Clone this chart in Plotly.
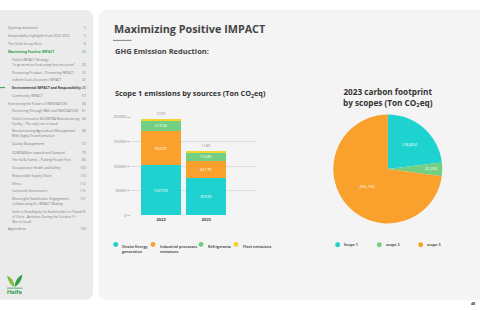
import plotly.graph_objects as go

W, H = 480, 310
FONT = "Open Sans"

# ---------------- data ----------------
years = ["2022", "2023"]
sources = ["Onsite Energy<br>generation", "Industrial processes<br>emissions", "Refrigerants", "Fleet emissions"]
onsite = [102730, 76330]
industrial = [69220, 34170]
refrigerants = [21318, 17240]
fleet = [1090, 1180]
bar_colors = ["#1ED2CF", "#F9A12C", "#72CF82", "#F2D430"]

scopes = ["Scope 1", "scope 2", "scope 3"]
scope_values = [128854, 22262, 405752]
scope_colors = ["#1ED2CF", "#72CF82", "#F9A12C"]

y_ticks = [0, 50000, 100000, 150000, 200000]

toc = [
    # (lines, page, indent, style)
    (["Opening statement"], "5", 0, "n"),
    (["Sustainability highlights from 2022-2023"], "5", 0, "n"),
    (["The Haifa Group Story"], "8", 0, "n"),
    (["Maximizing Positive IMPACT"], "25", 0, "g"),
    (["Haifa's IMPACT Strategy:", "\"to grow more food using less resources\""], "26", 1, "n"),
    (["Pioneering Product \u2013 Pioneering IMPACT"], "31", 1, "n"),
    (["Indirect Socio-Economic IMPACT"], "37", 1, "n"),
    (["Environmental IMPACT and Responsibility"], "40", 1, "b"),
    (["Community IMPACT"], "57", 1, "n"),
    (["Harnessing the Power of INNOVATION"], "66", 0, "n"),
    (["Pioneering Through R&D and INNOVATION"], "61", 1, "n"),
    (["Haifa's Innovative BLOWDRA Manufacturing", "Facility - The only one in Israel"], "64", 1, "n"),
    (["Revolutionizing Agricultural Management", "With Digital Transformation"], "68", 1, "n"),
    (["Quality Management"], "72", 1, "n"),
    (["COMPASSion Inward and Outward"], "79", 1, "n"),
    (["The Haifa Family \u2013 Putting People First"], "86", 1, "n"),
    (["Occupational Health and Safety"], "102", 1, "n"),
    (["Responsible Supply Chain"], "110", 1, "n"),
    (["Ethics"], "112", 1, "n"),
    (["Corporate Governance"], "115", 1, "n"),
    (["Meaningful Stakeholder Engagement -", "Collaborating for IMPACT Making"], "121", 1, "n"),
    (["Haifa is Standing by its Stakeholders in Times", "of Crisis - Activities During the October 7<sup>th</sup>", "War in Israel"], "125", 1, "n"),
    (["Appendices"], "129", 0, "n"),
]
toc_y = [25, 33.3, 41.3, 49.3, 57.3, 70.3, 78, 86, 94, 101.7, 109.6, 117.3, 130, 143.3,
         151.7, 159.3, 167.3, 175.3, 183, 191, 198.7, 212, 229]
toc_page_line = [0, 0, 0, 0, 1, 0, 0, 0, 0, 0, 0, 0, 0, 0, 0, 0, 0, 0, 0, 0, 0, 0, 0]


def X(px):
    return px / W


def Y(py):
    return 1 - py / H


def rrect(x0, y0, x1, y1, r_tl, r_tr, r_br, r_bl):
    p = f"M {X(x0 + r_tl)},{Y(y0)} L {X(x1 - r_tr)},{Y(y0)} "
    p += f"Q {X(x1)},{Y(y0)} {X(x1)},{Y(y0 + r_tr)} "
    p += f"L {X(x1)},{Y(y1 - r_br)} Q {X(x1)},{Y(y1)} {X(x1 - r_br)},{Y(y1)} "
    p += f"L {X(x0 + r_bl)},{Y(y1)} Q {X(x0)},{Y(y1)} {X(x0)},{Y(y1 - r_bl)} "
    p += f"L {X(x0)},{Y(y0 + r_tl)} Q {X(x0)},{Y(y0)} {X(x0 + r_tl)},{Y(y0)} Z"
    return p


shapes = []
annotations = []

# panels
shapes.append(dict(type="path", xref="paper", yref="paper", path=rrect(-10, 7, 93.3, 301.7, 0, 9, 9, 0),
                   fillcolor="#EBEBEB", line=dict(width=0), layer="below"))
shapes.append(dict(type="path", xref="paper", yref="paper", path=rrect(98.5, 7, 495, 302, 9, 9, 9, 9),
                   fillcolor="#F4F4F4", line=dict(width=0), layer="below"))

# TOC
TOC_SIZE = 3.3
for (lines, page, indent, style), yy, pl in zip(toc, toc_y, toc_page_line):
    x0 = 6 if indent == 0 else 9.5
    col = "#7A7A7A"
    txt_lines = lines
    if style == "g":
        col = "#2E9E48"
        txt_lines = [f"<b>{l}</b>" for l in lines]
    elif style == "b":
        col = "#3A3A3A"
        txt_lines = [f"<b>{l}</b>" for l in lines]
    for i, l in enumerate(txt_lines):
        annotations.append(dict(x=X(x0), y=Y(yy + i * 4.9), xref="paper", yref="paper", text=l,
                                showarrow=False, xanchor="left", yanchor="middle",
                                font=dict(family=FONT, size=TOC_SIZE, color=col)))
    annotations.append(dict(x=X(87.5), y=Y(yy + pl * 4.9), xref="paper", yref="paper", text=page,
                            showarrow=False, xanchor="right", yanchor="middle",
                            font=dict(family=FONT, size=TOC_SIZE, color=col)))
    if style == "b":
        shapes.append(dict(type="line", xref="paper", yref="paper", x0=X(0), x1=X(5), y0=Y(yy), y1=Y(yy),
                           line=dict(color="#2E9E48", width=1)))

# logo
shapes.append(dict(type="path", xref="paper", yref="paper",
                   path=f"M {X(7)},{Y(277)} Q {X(9)},{Y(287)} {X(14.5)},{Y(288.5)} Q {X(14)},{Y(280)} {X(7)},{Y(277)} Z",
                   fillcolor="#7BC043", line=dict(width=0)))
shapes.append(dict(type="path", xref="paper", yref="paper",
                   path=f"M {X(22.5)},{Y(276)} Q {X(15.5)},{Y(279)} {X(14.5)},{Y(288.5)} Q {X(21)},{Y(286)} {X(22.5)},{Y(276)} Z",
                   fillcolor="#2E9E48", line=dict(width=0)))
shapes.append(dict(type="line", xref="paper", yref="paper", x0=X(7), x1=X(22.5), y0=Y(289.8), y1=Y(289.8),
                   line=dict(color="#2E9E48", width=0.8)))
annotations.append(dict(x=X(14.7), y=Y(293.6), xref="paper", yref="paper", text="<b>Haifa</b>",
                        showarrow=False, xanchor="center", yanchor="middle",
                        font=dict(family="Roboto", size=6.2, color="#2E9E48")))

# headings
annotations.append(dict(x=X(112), y=Y(25.5), xref="paper", yref="paper", text="<b>Maximizing Positive IMPACT</b>",
                        showarrow=False, xanchor="left", yanchor="middle",
                        font=dict(family=FONT, size=10.8, color="#444444")))
shapes.append(dict(type="line", xref="paper", yref="paper", x0=X(113), x1=X(131.5), y0=Y(38), y1=Y(38),
                   line=dict(color="#666666", width=0.8)))
annotations.append(dict(x=X(112.5), y=Y(48.7), xref="paper", yref="paper", text="<b>GHG Emission Reduction:</b>",
                        showarrow=False, xanchor="left", yanchor="middle",
                        font=dict(family=FONT, size=7.5, color="#444444")))
annotations.append(dict(x=X(112.5), y=Y(91.5), xref="paper", yref="paper",
                        text="<b>Scope 1 emissions by sources (Ton CO<sub>2</sub>eq)</b>",
                        showarrow=False, xanchor="left", yanchor="middle",
                        font=dict(family=FONT, size=7.3, color="#333333")))
annotations.append(dict(x=X(388), y=Y(96.3), xref="paper", yref="paper",
                        text="<b>2023 carbon footprint<br>by scopes (Ton CO<sub>2</sub>eq)</b>",
                        showarrow=False, xanchor="center", yanchor="middle",
                        font=dict(family=FONT, size=8.2, color="#333333")))

# legends
bar_leg_x = [115.7, 153, 201, 236]
for name, col, lx in zip(sources, bar_colors, bar_leg_x):
    shapes.append(dict(type="circle", xref="paper", yref="paper", x0=X(lx - 2.5), x1=X(lx + 2.5),
                       y0=Y(245.5 + 2.5), y1=Y(245.5 - 2.5), fillcolor=col, line=dict(width=0)))
    annotations.append(dict(x=X(lx + 4.5), y=Y(243.3), xref="paper", yref="paper", text=f"<b>{name}</b>",
                            showarrow=False, xanchor="left", yanchor="top", align="left",
                            font=dict(family=FONT, size=3.7, color="#555555")))
pie_leg_x = [337.7, 379.3, 420.7]
for name, col, lx in zip(scopes, scope_colors, pie_leg_x):
    shapes.append(dict(type="circle", xref="paper", yref="paper", x0=X(lx - 2.5), x1=X(lx + 2.5),
                       y0=Y(245.7 + 2.5), y1=Y(245.7 - 2.5), fillcolor=col, line=dict(width=0)))
    annotations.append(dict(x=X(lx + 4.5), y=Y(245.7), xref="paper", yref="paper", text=f"<b>{name}</b>",
                            showarrow=False, xanchor="left", yanchor="middle", align="left",
                            font=dict(family=FONT, size=3.7, color="#555555")))

annotations.append(dict(x=X(473), y=Y(305.5), xref="paper", yref="paper", text="<b>48</b>",
                        showarrow=False, xanchor="center", yanchor="middle",
                        font=dict(family=FONT, size=3.6, color="#333333")))

fig = go.Figure()
series = [onsite, industrial, refrigerants, fleet]
for i, (name, vals, col) in enumerate(zip(sources, series, bar_colors)):
    last = i == len(series) - 1
    fig.add_trace(go.Bar(
        x=years, y=vals, name=name, marker=dict(color=col, line=dict(width=0)),
        width=0.885, text=[f"{v}" for v in vals],
        textposition="outside" if last else "inside", insidetextanchor="middle",
        textfont=dict(family=FONT, size=4.2, color="#9A9A9A" if last else "white"),
        constraintext="none", cliponaxis=False, showlegend=False,
    ))

fig.add_trace(go.Pie(
    labels=scopes, values=scope_values, marker=dict(colors=scope_colors, line=dict(width=0)),
    sort=False, direction="clockwise", rotation=0,
    texttemplate="%{value:,}", textposition="inside", insidetextorientation="horizontal",
    textfont=dict(family=FONT, size=4.2, color="white"),
    domain=dict(x=[X(332.3), X(443.3)], y=[Y(224), Y(113.3)]), showlegend=False,
))

fig.update_layout(
    width=W, height=H, margin=dict(l=0, r=0, t=0, b=0),
    paper_bgcolor="white", plot_bgcolor="rgba(0,0,0,0)",
    barmode="stack", bargap=0,
    font=dict(family=FONT),
    uniformtext=dict(minsize=4.2, mode="show"),
    xaxis=dict(domain=[X(131), X(257)], range=[-0.664, 2.124], type="category",
               showgrid=False, showline=False, zeroline=False, ticks="",
               tickfont=dict(family=FONT, size=4.2, color="#444444"), ticklabelstandoff=1,
               tickprefix="<b>", ticksuffix="</b>"),
    yaxis=dict(domain=[Y(215.7), Y(116)], range=[0, 200000], tickvals=y_ticks,
               ticktext=[str(v) for v in y_ticks],
               showgrid=True, gridcolor="#DDDDDD", gridwidth=0.6, zeroline=False, showline=False,
               ticks="outside", ticklen=3, tickcolor="#BBBBBB", tickwidth=0.6,
               tickfont=dict(family=FONT, size=3.8, color="#888888")),
    shapes=shapes, annotations=annotations,
)

fig.write_html("out.html")
